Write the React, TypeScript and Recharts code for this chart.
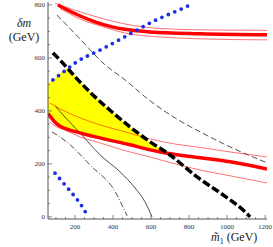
import React from 'react';
import { ComposedChart, Line, Area, XAxis, YAxis } from 'recharts';

// tick positions
const xTicks = [100, 150, 200, 250, 300, 350, 400, 450, 500, 550, 600, 650, 700, 750, 800, 850, 900, 950, 1000, 1050, 1100, 1150, 1200];
const yTicks = [0, 50, 100, 150, 200, 250, 300, 350, 400, 450, 500, 550, 600, 650, 700, 750, 800];

// allowed (yellow) region
const yellowX = [58, 100, 163, 216, 305, 395, 489, 595, 684];
const yellowLow = [390, 355, 334, 318, 303, 288, 272, 253, 242];
const yellowHigh = [503, 526, 560, 517, 453, 396, 340, 283, 242];

// upper red band
const redThickUpperX = [110, 216, 305, 395, 463, 595, 858, 1210];
const redThickUpperY = [800, 762, 736, 717, 708, 698, 691, 687];
const redThinUpperAX = [95, 226, 332, 463, 647, 858, 1210];
const redThinUpperAY = [806, 774, 751, 728, 711, 706, 704];
const redThinUpperBX = [121, 226, 332, 463, 647, 858, 1210];
const redThinUpperBY = [787, 747, 721, 694, 679, 672, 668];

// lower red band
const redThickLowerX = [58, 111, 226, 332, 489, 595, 700, 858, 1016, 1210];
const redThickLowerY = [390, 347, 317, 298, 272, 253, 238, 223, 208, 181];
const redThinLowerAX = [68, 121, 226, 332, 463, 595, 726, 858, 1016, 1210];
const redThinLowerAY = [430, 408, 374, 347, 321, 294, 275, 262, 245, 226];
const redThinLowerBX = [68, 95, 147, 226, 332, 463, 595, 726, 858, 1016, 1210];
const redThinLowerBY = [358, 343, 328, 302, 279, 250, 226, 200, 177, 155, 128];

// blue dotted
const blueUpperX = [84, 150, 209, 330, 463, 546, 617, 695, 767, 805];
const blueUpperY = [517, 553, 585, 629, 680, 713, 740, 765, 787, 800];
const blueLowerX = [95, 121, 147, 174, 200, 223, 247, 265];
const blueLowerY = [165, 143, 121, 98, 76, 54, 29, 4];

// black curves
const blackThickX = [84, 121, 216, 305, 395, 489, 595, 684, 842, 1016, 1084, 1121];
const blackThickY = [619, 592, 517, 453, 396, 340, 283, 242, 151, 64, 26, 0];
const blackDashX = [105, 226, 347, 463, 595, 753, 858, 1016, 1210];
const blackDashY = [762, 672, 581, 517, 438, 362, 321, 264, 204];
const blackDashDotX = [79, 163, 279, 421, 447, 474];
const blackDashDotY = [321, 279, 196, 83, 45, 4];
const blackSolidX = [95, 147, 226, 332, 437, 516, 568, 605];
const blackSolidY = [419, 377, 317, 234, 170, 109, 57, 0];

const pts = (xs: number[], ys: number[]) => xs.map((x, i) => ({ x, y: ys[i] }));
const yellowData = yellowX.map((x, i) => ({ x, range: [yellowLow[i], yellowHigh[i]] }));

const serif = "'Times New Roman', 'Liberation Serif', 'DejaVu Serif', serif";
const tickColor = '#555';

const BottomTick = (props: any) => {
    const { x, y, payload } = props;
    const major = payload.value % 200 === 0;
    return (
        <g>
            <line x1={x} x2={x} y1={y} y2={y - (major ? 4 : 2)} stroke={tickColor} strokeWidth={0.7} />
            {major && (
                <text x={x} y={y + 10} textAnchor="middle" fontSize={7} fill="#333" style={{ fontFamily: serif }}>{payload.value}</text>
            )}
        </g>
    );
};

const TopTick = (props: any) => {
    const { x, y, payload } = props;
    const major = payload.value % 200 === 0;
    return <line x1={x} x2={x} y1={y} y2={y + (major ? 4 : 2)} stroke={tickColor} strokeWidth={0.7} />;
};

const LeftTick = (props: any) => {
    const { x, y, payload } = props;
    const major = payload.value % 200 === 0;
    return (
        <g>
            <line x1={x} x2={x + (major ? 4 : 2)} y1={y} y2={y} stroke={tickColor} strokeWidth={0.7} />
            {major && (
                <text x={x - 3} y={y + 2.5} textAnchor="end" fontSize={7} fill="#333" style={{ fontFamily: serif }}>{payload.value}</text>
            )}
        </g>
    );
};

const RightTick = (props: any) => {
    const { x, y, payload } = props;
    const major = payload.value % 200 === 0;
    return <line x1={x} x2={x - (major ? 4 : 2)} y1={y} y2={y} stroke={tickColor} strokeWidth={0.7} />;
};

const thinRed = { stroke: '#ff0000', strokeOpacity: 0.55, strokeWidth: 1 };

export default function App() {
    return (
        <div style={{ position: 'absolute', left: 0, top: 0, width: 273, height: 247, background: '#fff' }}>
            <ComposedChart width={273} height={247} margin={{ top: 2, right: 6, bottom: 0, left: 0 }}>
                <XAxis dataKey="x" type="number" domain={[58, 1210]} ticks={xTicks} allowDataOverflow height={28}
                    tickLine={false} tickSize={0} tickMargin={0} tick={<BottomTick />} axisLine={{ stroke: tickColor }} interval={0} />
                <XAxis xAxisId="top" orientation="top" dataKey="x" type="number" domain={[58, 1210]} ticks={xTicks} allowDataOverflow height={0}
                    tickLine={false} tickSize={0} tickMargin={0} tick={<TopTick />} axisLine={{ stroke: tickColor }} interval={0} />
                <YAxis type="number" domain={[-8, 811]} ticks={yTicks} allowDataOverflow width={48}
                    tickLine={false} tickSize={0} tickMargin={0} tick={<LeftTick />} axisLine={{ stroke: tickColor }} interval={0} />
                <YAxis yAxisId="right" orientation="right" type="number" domain={[-8, 811]} ticks={yTicks} allowDataOverflow width={0}
                    tickLine={false} tickSize={0} tickMargin={0} tick={<RightTick />} axisLine={{ stroke: tickColor }} interval={0} />

                <Area data={yellowData} dataKey="range" type="monotone" fill="#ffff00" fillOpacity={1} stroke="none" isAnimationActive={false} />

                <Line data={pts(blackSolidX, blackSolidY)} dataKey="y" type="monotone" stroke="#222" strokeWidth={0.8} dot={false} activeDot={false} isAnimationActive={false} />
                <Line data={pts(blackDashX, blackDashY)} dataKey="y" type="monotone" stroke="#222" strokeWidth={0.8} strokeDasharray="6 3" dot={false} activeDot={false} isAnimationActive={false} />
                <Line data={pts(blackDashDotX, blackDashDotY)} dataKey="y" type="monotone" stroke="#222" strokeWidth={0.8} strokeDasharray="6 2 1 2" dot={false} activeDot={false} isAnimationActive={false} />

                <Line data={pts(redThinUpperAX, redThinUpperAY)} dataKey="y" type="monotone" {...thinRed} dot={false} activeDot={false} isAnimationActive={false} />
                <Line data={pts(redThinUpperBX, redThinUpperBY)} dataKey="y" type="monotone" {...thinRed} dot={false} activeDot={false} isAnimationActive={false} />
                <Line data={pts(redThinLowerAX, redThinLowerAY)} dataKey="y" type="monotone" {...thinRed} dot={false} activeDot={false} isAnimationActive={false} />
                <Line data={pts(redThinLowerBX, redThinLowerBY)} dataKey="y" type="monotone" {...thinRed} dot={false} activeDot={false} isAnimationActive={false} />
                <Line data={pts(redThickUpperX, redThickUpperY)} dataKey="y" type="monotone" stroke="#ff0000" strokeWidth={3.5} dot={false} activeDot={false} isAnimationActive={false} />
                <Line data={pts(redThickLowerX, redThickLowerY)} dataKey="y" type="monotone" stroke="#ff0000" strokeWidth={3.5} dot={false} activeDot={false} isAnimationActive={false} />

                <Line data={pts(blackThickX, blackThickY)} dataKey="y" type="monotone" stroke="#000" strokeWidth={3.5} strokeDasharray="8 3" dot={false} activeDot={false} isAnimationActive={false} />

                <Line data={pts(blueUpperX, blueUpperY)} dataKey="y" type="monotone" stroke="#1a2ee6" strokeWidth={3.8} strokeDasharray="0 7" strokeLinecap="round" dot={false} activeDot={false} isAnimationActive={false} />
                <Line data={pts(blueLowerX, blueLowerY)} dataKey="y" type="monotone" stroke="#1a2ee6" strokeWidth={3.8} strokeDasharray="0 7" strokeLinecap="round" dot={false} activeDot={false} isAnimationActive={false} />
            </ComposedChart>
            <div style={{ position: 'absolute', left: 0, top: 16, width: 48, textAlign: 'center', fontFamily: serif, fontSize: 12, lineHeight: '14px', color: '#222' }}>
                <i>δm</i><br />(GeV)
            </div>
            <div style={{ position: 'absolute', left: 211, top: 230, fontFamily: serif, fontSize: 12, lineHeight: '14px', color: '#222', whiteSpace: 'nowrap' }}>
                <i>m̃</i><sub style={{ fontSize: 8 }}>1</sub> (GeV)
            </div>
        </div>
    );
}
